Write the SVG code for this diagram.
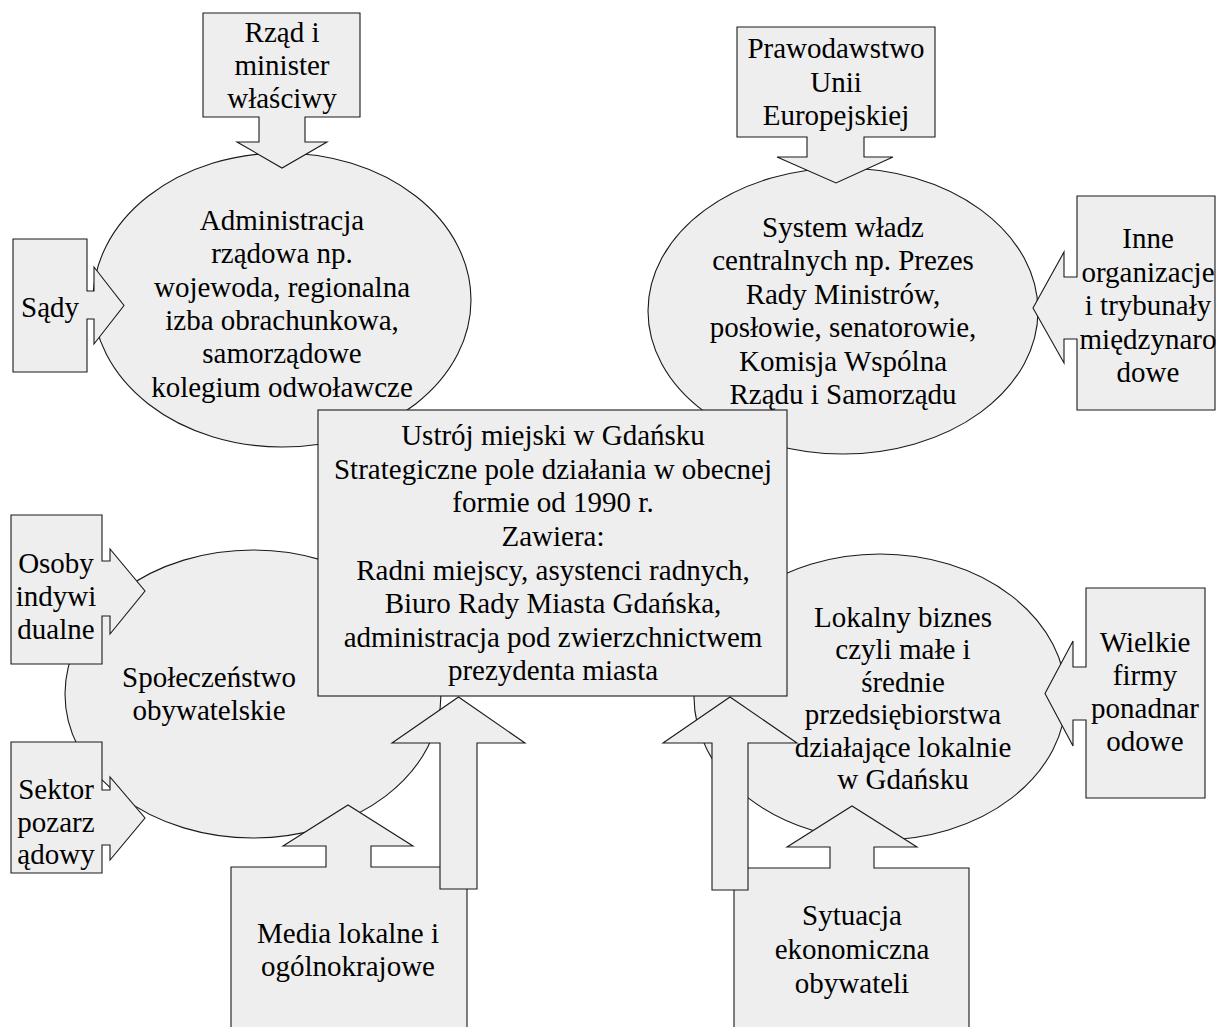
<svg xmlns="http://www.w3.org/2000/svg" width="1217" height="1027" viewBox="0 0 1217 1027">
<style>
.s{fill:#eeeeee;stroke:#1a1a1a;stroke-width:1.1;stroke-linejoin:miter}
.t{font-family:"Liberation Serif","Times New Roman",serif;font-size:29px;fill:#000;text-anchor:middle}
</style>
<rect width="1217" height="1027" fill="#ffffff"/>
<g id="e-admin"><ellipse class="s" cx="282" cy="300" rx="189" ry="147"/>
<text class="t" x="282"><tspan x="282" y="230">Administracja</tspan><tspan x="282" y="263">rządowa np.</tspan><tspan x="282" y="297">wojewoda, regionalna</tspan><tspan x="282" y="330">izba obrachunkowa,</tspan><tspan x="282" y="363">samorządowe</tspan><tspan x="282" y="397">kolegium odwoławcze</tspan></text></g>
<g id="e-central"><ellipse class="s" cx="843" cy="311" rx="195" ry="143"/>
<text class="t"><tspan x="843" y="237">System władz</tspan><tspan x="843" y="270">centralnych np. Prezes</tspan><tspan x="843" y="304">Rady Ministrów,</tspan><tspan x="843" y="337">posłowie, senatorowie,</tspan><tspan x="843" y="371">Komisja Wspólna</tspan><tspan x="843" y="404">Rządu i Samorządu</tspan></text></g>
<g id="e-society"><ellipse class="s" cx="253" cy="694" rx="188" ry="144"/>
<text class="t"><tspan x="209" y="687">Społeczeństwo</tspan><tspan x="209" y="720">obywatelskie</tspan></text></g>
<g id="e-business"><ellipse class="s" cx="880" cy="697" rx="186" ry="143"/>
<text class="t"><tspan x="903" y="627">Lokalny biznes</tspan><tspan x="903" y="659">czyli małe i</tspan><tspan x="903" y="692">średnie</tspan><tspan x="903" y="724">przedsiębiorstwa</tspan><tspan x="903" y="757">działające lokalnie</tspan><tspan x="903" y="789">w Gdańsku</tspan></text></g>
<g id="center"><rect class="s" x="318" y="410" width="469" height="286"/>
<text class="t"><tspan x="553" y="445">Ustrój miejski w Gdańsku</tspan><tspan x="553" y="479">Strategiczne pole działania w obecnej</tspan><tspan x="553" y="512">formie od 1990 r.</tspan><tspan x="553" y="546">Zawiera:</tspan><tspan x="553" y="580">Radni miejscy, asystenci radnych,</tspan><tspan x="553" y="613">Biuro Rady Miasta Gdańska,</tspan><tspan x="553" y="647">administracja pod zwierzchnictwem</tspan><tspan x="553" y="680">prezydenta miasta</tspan></text></g>
<g id="rzad"><path class="s" d="M203,13 H360 V117 H305 V142 H327 L282,168 L237,142 H259 V117 H203 Z"/>
<text class="t"><tspan x="282" y="42">Rząd i</tspan><tspan x="282" y="75">minister</tspan><tspan x="282" y="108">właściwy</tspan></text></g>
<g id="sady"><path class="s" d="M13,239 H87 V291 H94 V267 L124,305.5 L94,344 V319 H87 V372 H13 Z"/>
<text class="t"><tspan x="50" y="317">Sądy</tspan></text></g>
<g id="prawo"><path class="s" d="M737,27 H935 V137 H864 V157 H893 L836,183 L777,157 H807 V137 H737 Z"/>
<text class="t"><tspan x="836" y="58">Prawodawstwo</tspan><tspan x="836" y="92">Unii</tspan><tspan x="836" y="125">Europejskiej</tspan></text></g>
<g id="inne"><path class="s" d="M1077,196 H1215 V410 H1077 V339 H1064 V363 L1033,308 L1064,252 V277 H1077 Z"/>
<text class="t"><tspan x="1148" y="248">Inne</tspan><tspan x="1148" y="282">organizacje</tspan><tspan x="1148" y="315">i trybunały</tspan><tspan x="1148" y="349">międzynaro</tspan><tspan x="1148" y="382">dowe</tspan></text></g>
<g id="osoby"><path class="s" d="M11,515 H102 V561 H110 V549 L145,591 L110,634 V616 H102 V664 H11 Z"/>
<text class="t"><tspan x="56" y="573">Osoby</tspan><tspan x="56" y="606">indywi</tspan><tspan x="56" y="639">dualne</tspan></text></g>
<g id="sektor"><path class="s" d="M11,742 H102 V790 H110 V777 L145,818 L110,860 V845 H102 V873 H11 Z"/>
<text class="t"><tspan x="56" y="799">Sektor</tspan><tspan x="56" y="832">pozarz</tspan><tspan x="56" y="864">ądowy</tspan></text></g>
<g id="wielkie"><path class="s" d="M1086,588 H1205 V798 H1086 V720 H1073 V746 L1045,693.5 L1073,641 V667 H1086 Z"/>
<text class="t"><tspan x="1145" y="652">Wielkie</tspan><tspan x="1145" y="685">firmy</tspan><tspan x="1145" y="718">ponadnar</tspan><tspan x="1145" y="751">odowe</tspan></text></g>
<g id="media"><path class="s" d="M231,867 H326 V846 H283 L348,805 L413,846 H371 V867 H467 V1040 H231 Z"/>
<text class="t"><tspan x="348" y="943">Media lokalne i</tspan><tspan x="348" y="976">ogólnokrajowe</tspan></text></g>
<g id="sytuacja"><path class="s" d="M734,868 H830 V847 H787 L852,806 L917,847 H874 V868 H969 V1040 H734 Z"/>
<text class="t"><tspan x="852" y="925">Sytuacja</tspan><tspan x="852" y="959">ekonomiczna</tspan><tspan x="852" y="993">obywateli</tspan></text></g>
<g id="connectors">
<path class="s" d="M440,889 V743 H392 L458.5,697 L525,743 H477 V889 Z"/>
<path class="s" d="M712,890 V743 H663 L730,697 L797,743 H748 V890 Z"/>
</g>
</svg>
